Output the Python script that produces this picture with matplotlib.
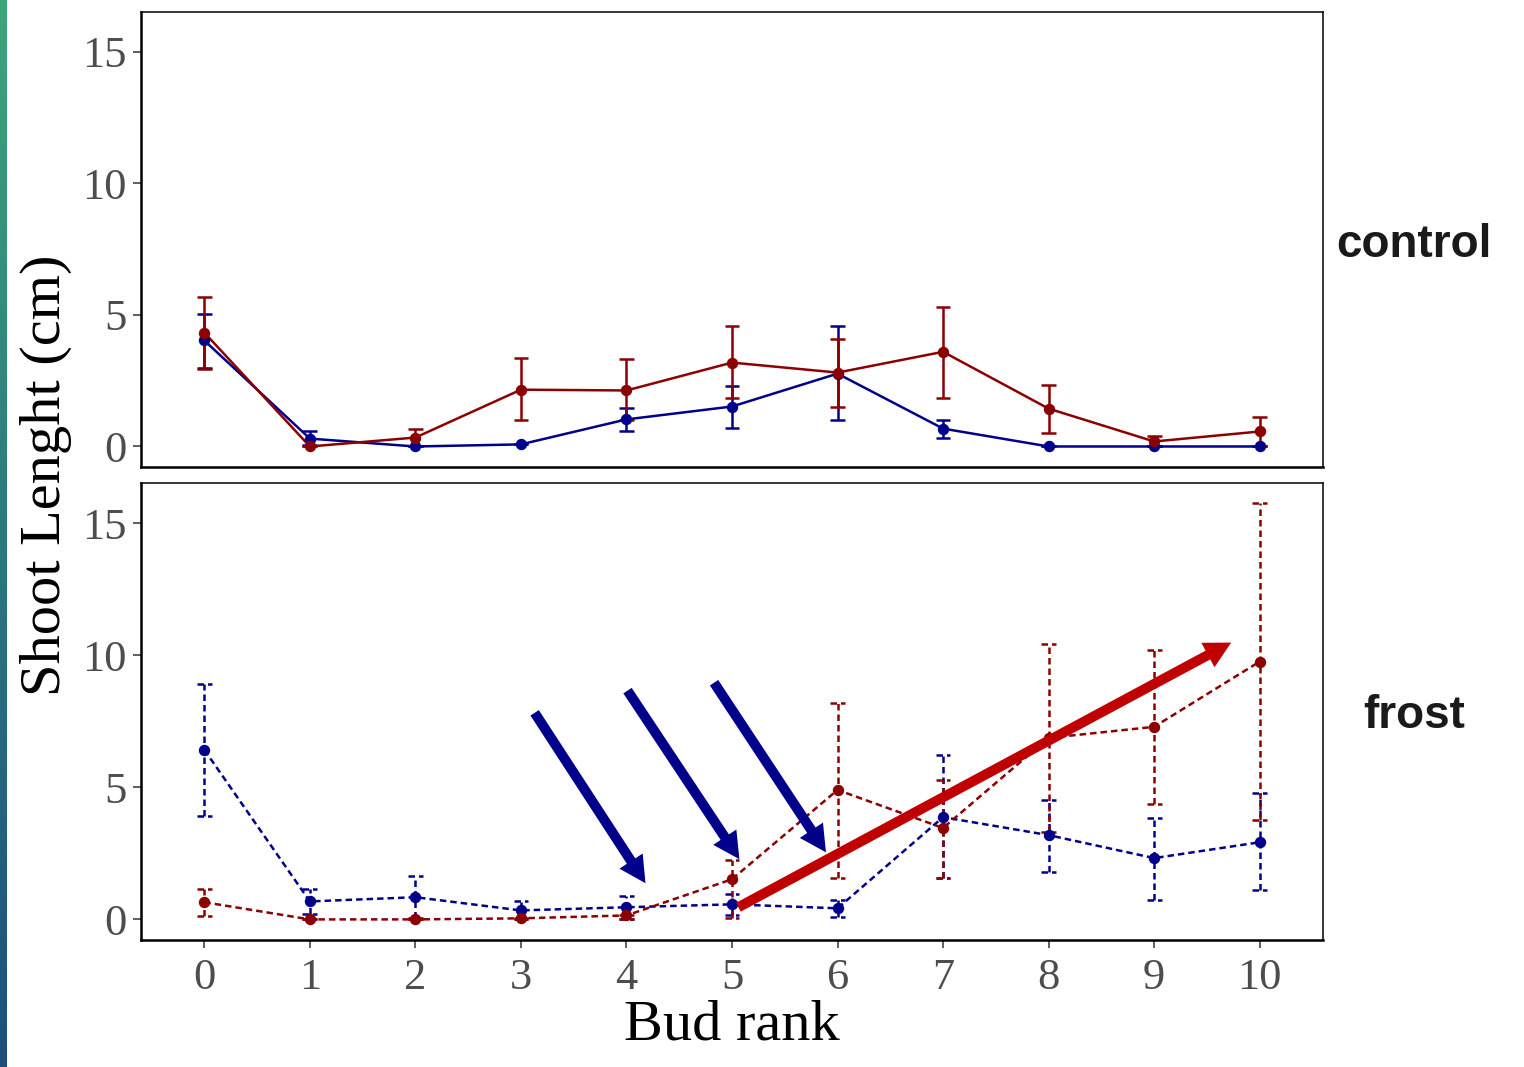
import numpy as np
import matplotlib.pyplot as plt
from matplotlib.colors import LinearSegmentedColormap

# bud rank on the x axis
bud_rank = list(range(11))

# control panel: mean shoot length and error bar limits
ctrl_red = [4.33, 0.0, 0.34, 2.16, 2.13, 3.19, 2.81, 3.60, 1.44, 0.19, 0.57]
ctrl_red_lo = [2.96, 0.0, 0.0, 1.00, 1.02, 1.86, 1.52, 1.86, 0.53, 0.0, 0.0]
ctrl_red_hi = [5.70, 0.0, 0.65, 3.38, 3.34, 4.60, 4.10, 5.30, 2.35, 0.38, 1.14]

ctrl_blue = [4.03, 0.30, 0.0, 0.08, 1.03, 1.52, 2.77, 0.68, 0.0, 0.0, 0.0]
ctrl_blue_lo = [3.00, 0.04, 0.0, 0.08, 0.57, 0.72, 1.00, 0.34, 0.0, 0.0, 0.0]
ctrl_blue_hi = [5.05, 0.57, 0.0, 0.08, 1.48, 2.30, 4.60, 1.00, 0.0, 0.0, 0.0]

# frost panel
frost_red = [0.65, 0.0, 0.0, 0.04, 0.15, 1.52, 4.90, 3.46, 6.87, 7.29, 9.76]
frost_red_lo = [0.11, 0.0, 0.0, 0.0, 0.0, 0.05, 1.56, 1.56, 3.30, 4.37, 3.76]
frost_red_hi = [1.14, 0.0, 0.0, 0.04, 0.15, 2.25, 8.20, 5.28, 10.44, 10.20, 15.76]

frost_blue = [6.42, 0.68, 0.84, 0.34, 0.46, 0.57, 0.42, 3.87, 3.19, 2.32, 2.92]
frost_blue_lo = [3.91, 0.22, 0.05, 0.0, 0.0, 0.15, 0.10, 1.56, 1.78, 0.72, 1.10]
frost_blue_hi = [8.92, 1.14, 1.63, 0.68, 0.87, 0.95, 0.75, 6.23, 4.52, 3.84, 4.79]

# highlight arrows in the frost panel: (x0, y0, x1, y1)
blue_arrows = [(3.13, 7.82, 4.18, 1.37),
               (4.01, 8.66, 5.07, 2.28),
               (4.83, 8.96, 5.89, 2.54)]
red_arrow = (5.06, 0.46, 9.73, 10.48)

RED = '#8B0000'
BLUE = '#00008B'
SERIF = ['Liberation Serif', 'DejaVu Serif']

fig = plt.figure(figsize=(15.24, 10.67), dpi=100)

# thin gradient strip on the left edge
strip = fig.add_axes([0, 0, 7 / 1524, 1])
cmap = LinearSegmentedColormap.from_list('edge', ['#3BA67B', '#2A7A7E', '#1C4E7E'])
strip.imshow(np.linspace(0, 1, 256).reshape(-1, 1), cmap=cmap, aspect='auto')
strip.axis('off')

ax_top = fig.add_axes([141 / 1524, 1 - 467 / 1067, 1182 / 1524, 455 / 1067])
ax_bot = fig.add_axes([141 / 1524, 1 - 940 / 1067, 1182 / 1524, 457 / 1067])


def draw_series(ax, y, lo, hi, color, ls):
    ax.vlines(bud_rank, lo, hi, colors=color, linestyles=ls, lw=1.8, zorder=2)
    x = np.array(bud_rank)
    ax.hlines(lo, x - 0.07, x + 0.07, colors=color, linestyles=ls, lw=1.8, zorder=2)
    ax.hlines(hi, x - 0.07, x + 0.07, colors=color, linestyles=ls, lw=1.8, zorder=2)
    ax.plot(bud_rank, y, color=color, lw=1.8, linestyle=ls, zorder=3)
    ax.plot(bud_rank, y, 'o', color=color, ms=7.2, zorder=4)


def draw_arrow(ax, seg, color):
    x0, y0, x1, y1 = seg
    ax.annotate('', xy=(x1, y1), xytext=(x0, y0),
                arrowprops=dict(arrowstyle='simple,head_length=0.95,head_width=1.0,tail_width=0.36',
                                mutation_scale=20, lw=0, color=color,
                                shrinkA=0, shrinkB=0),
                zorder=5)


dash = (0, (2.6, 1.6))
draw_series(ax_top, ctrl_blue, ctrl_blue_lo, ctrl_blue_hi, BLUE, '-')
draw_series(ax_top, ctrl_red, ctrl_red_lo, ctrl_red_hi, RED, '-')
draw_series(ax_bot, frost_blue, frost_blue_lo, frost_blue_hi, BLUE, dash)
draw_series(ax_bot, frost_red, frost_red_lo, frost_red_hi, RED, dash)

for seg in blue_arrows:
    draw_arrow(ax_bot, seg, BLUE)
draw_arrow(ax_bot, red_arrow, '#C00000')

for ax in (ax_top, ax_bot):
    ax.set_xlim(-0.6, 10.6)
    ax.set_ylim(-0.78, 16.52)
    ax.set_yticks([0, 5, 10, 15])
    ax.set_xticks(bud_rank)
    ax.tick_params(axis='both', direction='out', length=6, width=1.1,
                   color='#333333', labelcolor='#4D4D4D', labelsize=32, pad=4)
    ax.tick_params(axis='x', pad=7)
    for lab in ax.get_yticklabels() + ax.get_xticklabels():
        lab.set_family(SERIF)
    for side in ax.spines.values():
        side.set_linewidth(1.1)
        side.set_color('black')
    ax.spines['left'].set_linewidth(1.8)
    ax.spines['bottom'].set_linewidth(1.8)

ax_top.tick_params(axis='x', bottom=False, labelbottom=False)

fig.text(732 / 1524, 1 - 1025 / 1067, 'Bud rank', ha='center', va='center',
         fontsize=42, family=SERIF)
fig.text(46 / 1524, 1 - 475 / 1067, 'Shoot Lenght (cm)', ha='center', va='center',
         rotation=90, fontsize=42, family=SERIF)

fig.text(1414 / 1524, 1 - 245 / 1067, 'control', ha='center', va='center',
         fontsize=33, fontweight='bold', color='#1A1A1A',
         family=['Liberation Sans', 'DejaVu Sans'])
fig.text(1414 / 1524, 1 - 716 / 1067, 'frost', ha='center', va='center',
         fontsize=33, fontweight='bold', color='#1A1A1A',
         family=['Liberation Sans', 'DejaVu Sans'])

fig.savefig('out.png', dpi=100)
